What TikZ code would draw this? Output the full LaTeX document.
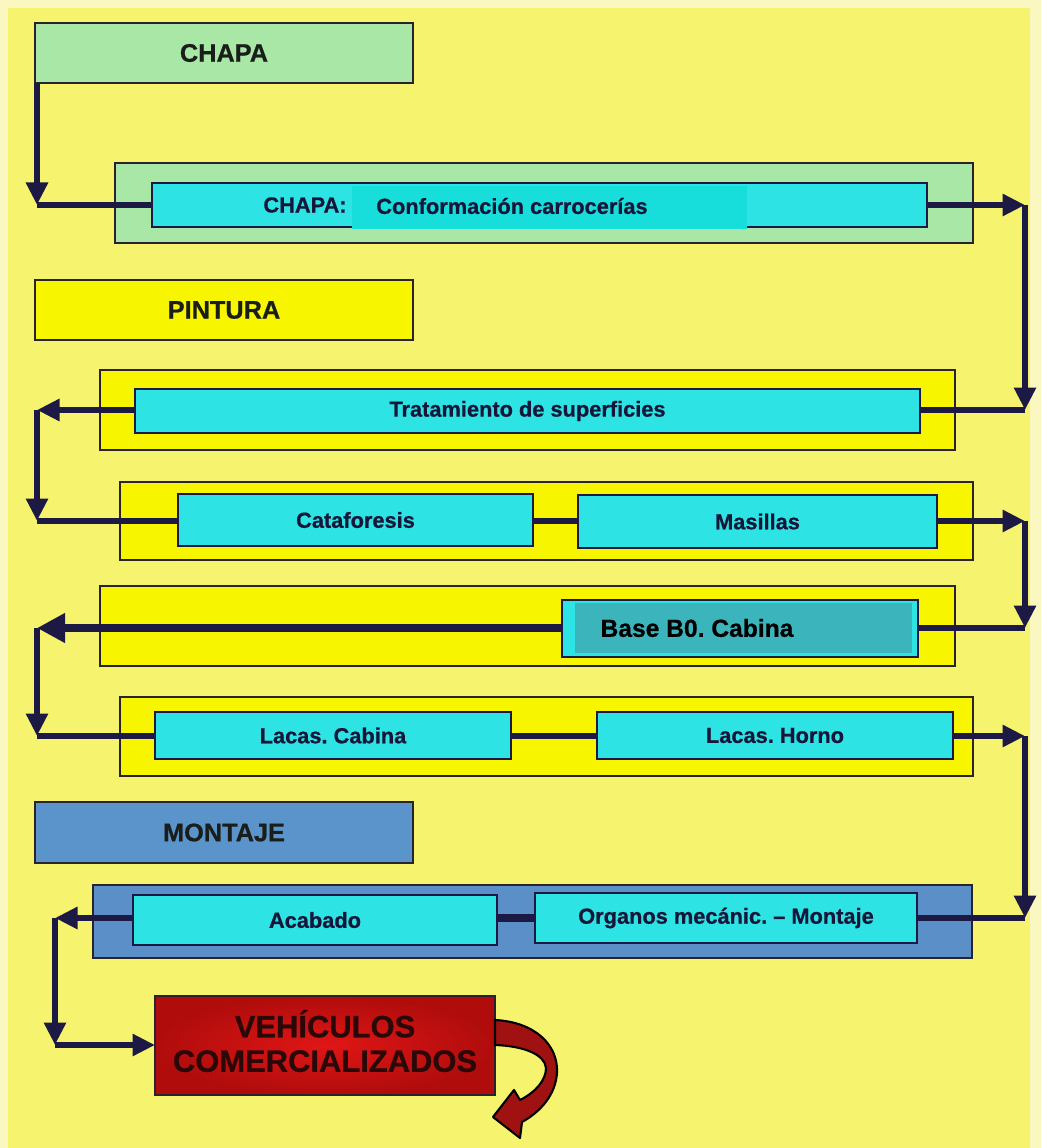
\documentclass[tikz,border=0pt]{standalone}
\usepackage{fontspec}
\setmainfont{Liberation Sans}[BoldFeatures={FakeBold=0.7}]
\usetikzlibrary{arrows.meta}
\definecolor{pagebg}{HTML}{FAF8C0}
\definecolor{bg}{HTML}{F6F36E}
\definecolor{greenbox}{HTML}{A8E7A6}
\definecolor{yellowbox}{HTML}{F7F500}
\definecolor{cyanbox}{HTML}{2DE3E3}
\definecolor{patchc}{HTML}{18DEDB}
\definecolor{basefill}{HTML}{3CB4BC}
\definecolor{bluehdr}{HTML}{5A94CB}
\definecolor{bluegrp}{HTML}{5A8FC8}
\definecolor{edge}{HTML}{2B2230}
\definecolor{navy}{HTML}{1C1A45}
\definecolor{txt}{HTML}{16163A}
\definecolor{hdrtxt}{HTML}{1A1E1A}
\definecolor{redin}{HTML}{E01616}
\definecolor{redout}{HTML}{B00C0C}
\definecolor{redarrow}{HTML}{A01212}
\definecolor{vehtxt}{HTML}{2A0808}
\newcommand\zbox[7]{\node[#6, minimum width={(#4-#2)*0.025cm}, minimum height={(#5-#3)*0.025cm}] (#1) at ({(#2+#4)/2},{(#3+#5)/2}) {#7};}
\frenchspacing
\begin{document}
\begin{tikzpicture}[x=0.025cm,y=-0.025cm,
  every node/.style={inner sep=0pt, outer sep=0pt},
  hdr/.style={draw=edge, line width=2pt, text=hdrtxt, font=\bfseries\fontsize{18}{20}\selectfont},
  grp/.style={draw=edge, line width=2pt},
  stepbox/.style={draw=navy, line width=2pt, fill=cyanbox, text=txt, font=\bfseries\fontsize{15.5}{17}\selectfont},
  lbl/.style={text=txt, font=\bfseries\fontsize{15.5}{17}\selectfont},
  flow/.style={draw=navy, line width=4.2pt, -{Triangle[length=16pt,width=15pt]}},
  bigflow/.style={draw=navy, line width=5pt, -{Triangle[length=20pt,width=20pt]}},
  lnk/.style={draw=navy, line width=4.2pt}
]
\useasboundingbox (0,0) rectangle (1041,1148);
\fill[pagebg] (0,0) rectangle (1041,1148);
\fill[bg] (8,8) rectangle (1030,1148);

% CHAPA
\zbox{chapaH}{35}{23}{413}{83}{hdr, fill=greenbox}{CHAPA\hspace{0.7cm}}
\zbox{chapaG}{115}{163}{973}{243}{grp, fill=greenbox}{}
\zbox{chapaIn}{152}{183}{927}{227}{stepbox}{}
\fill[patchc] (352,186) rectangle (747,229);
\node[lbl] (chapaT1) at (305,205) {CHAPA:};
\node[lbl] (chapaT2) at (512,206) {Conformación carrocerías};

% PINTURA
\zbox{pintH}{35}{280}{413}{340}{hdr, fill=yellowbox}{PINTURA}
\zbox{tratG}{100}{370}{955}{450}{grp, fill=yellowbox}{}
\zbox{catG}{120}{482}{973}{560}{grp, fill=yellowbox}{}
\zbox{baseG}{100}{586}{955}{666}{grp, fill=yellowbox}{}
\zbox{lacG}{120}{697}{973}{776}{grp, fill=yellowbox}{}

% MONTAJE
\zbox{montH}{35}{802}{413}{863}{hdr, fill=bluehdr}{MONTAJE}
\zbox{montG}{93}{885}{972}{958}{grp, fill=bluegrp}{}

% connectors
\coordinate (r1) at (1025,205);
\coordinate (r2) at (1025,410);
\coordinate (l1) at (37,410);
\coordinate (l2) at (37,521);
\coordinate (r3) at (1025,521);
\coordinate (r4) at (1025,628);
\coordinate (l3) at (37,628);
\coordinate (l4) at (37,736);
\coordinate (r5) at (1025,736);
\coordinate (r6) at (1025,918);
\coordinate (l5) at (55,918);
\coordinate (l6) at (55,1045);

\draw[flow] (chapaH.south west) ++(2,0) -- (37,205) coordinate (l0);
\draw[lnk] (l0) -- (152,205);
\draw[flow] (927,205) -- (r1);
\draw[flow] (r1) -- (r2);
\draw[lnk] (r2) -- (920,410);
\draw[flow] (135,410) -- (l1);
\draw[flow] (l1) -- (l2);
\draw[lnk] (l2) -- (178,521);
\draw[lnk] (533,521) -- (578,521);
\draw[flow] (937,521) -- (r3);
\draw[flow] (r3) -- (r4);
\draw[lnk] (r4) -- (918,628);
\draw[bigflow] (562,628) -- (l3);
\draw[flow] (l3) -- (l4);
\draw[lnk] (l4) -- (155,736);
\draw[lnk] (511,736) -- (597,736);
\draw[flow] (953,736) -- (r5);
\draw[flow] (r5) -- (r6);
\draw[lnk] (r6) -- (917,918);
\draw[lnk, line width=6pt] (497,918) -- (535,918);
\draw[flow] (133,918) -- (l5);
\draw[flow] (l5) -- (l6);
\draw[flow] (l6) -- (155,1045);

% PINTURA steps
\zbox{trat}{135}{389}{920}{433}{stepbox}{Tratamiento de superficies}
\zbox{cata}{178}{494}{533}{546}{stepbox}{Cataforesis}
\zbox{masi}{578}{495}{937}{548}{stepbox}{Masillas}
\zbox{base}{562}{600}{918}{657}{stepbox}{}
\fill[basefill] (575,603) rectangle (912,653);
\node[text=black, font=\bfseries\fontsize{17.5}{19}\selectfont] (baseT) at (697,628) {Base B0. Cabina};
\zbox{lacC}{155}{712}{511}{759}{stepbox}{Lacas. Cabina}
\zbox{lacH}{597}{712}{953}{759}{stepbox}{Lacas. Horno}

% MONTAJE steps
\zbox{acab}{133}{895}{497}{945}{stepbox}{Acabado\hspace{0.6cm}}
\zbox{org}{535}{893}{917}{943}{stepbox}{Organos mecánic. -- Montaje\hspace{0.3cm}}

% final
\zbox{veh}{155}{996}{495}{1095}{draw=edge, line width=2pt, inner color=redin, outer color=redout}{}
\node[text=vehtxt, align=center, font=\bfseries\fontsize{22}{24.5}\selectfont] (vehT) at (325,1041) {VEHÍCULOS\\COMERCIALIZADOS};

\filldraw[fill=redarrow, draw=black, line width=1.5pt, line join=round]
  (495,1020) .. controls (535,1022) and (558,1045) .. (557,1072)
  .. controls (556,1095) and (540,1112) .. (522,1122)
  -- (520,1138) -- (493,1117) -- (514,1090) -- (520,1100)
  .. controls (536,1092) and (546,1080) .. (546,1068)
  .. controls (545,1055) and (525,1046) .. (495,1045) -- cycle;
\end{tikzpicture}
\end{document}
